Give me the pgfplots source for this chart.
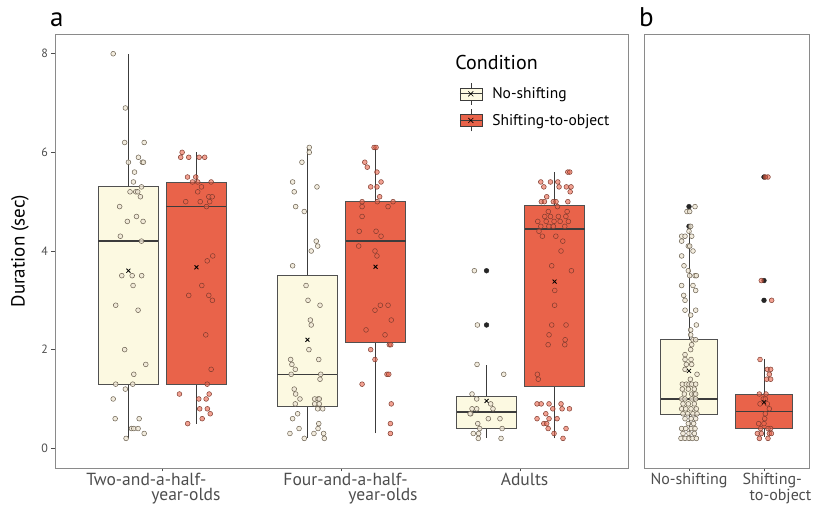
\documentclass[border=0pt]{standalone}
\usepackage{fontspec}
\setmainfont{PT Sans}
\usepackage{pgfplots}
\pgfplotsset{compat=1.18}
\usepgfplotslibrary{statistics}
\definecolor{boxY}{HTML}{FCF9E1}
\definecolor{boxR}{HTML}{E9634A}
\definecolor{edge}{HTML}{3C3C3C}
\definecolor{ptY}{HTML}{EFE7D6}
\definecolor{ptYe}{HTML}{6A6050}
\definecolor{ptRe}{HTML}{7E3B2E}
\definecolor{frame}{HTML}{8A8A8A}
\definecolor{ticklab}{HTML}{4D4D4D}
\pgfplotsset{
  common/.style={
    scale only axis, height=434pt, ymin=-0.4, ymax=8.4,
    axis line style={frame, line width=0.7pt},
    tick align=outside, tick pos=left, major tick length=3.5pt,
    tick style={ticklab, line width=0.6pt},
    /pgf/number format/assume math mode=true,
    yticklabel style={font=\fontsize{12}{14}\selectfont, text=ticklab},
    xticklabel style={text=ticklab, align=left, yshift=1.5pt},
  },
  bx/.style n args={7}{boxplot prepared={draw direction=y, draw position=#1, box extend=#2, lower whisker=#3, lower quartile=#4, median=#5, upper quartile=#6, upper whisker=#7, whisker extend=0, every median/.style={line width=1.5pt, draw=edge}, every whisker/.style={line width=0.7pt, draw=edge}}, draw=edge!90, line width=0.8pt},
  ptsY/.style={only marks, mark=*, mark size=2.4pt, mark options={fill=ptY, fill opacity=0.8, draw=ptYe, line width=0.5pt}},
  ptsR/.style={only marks, mark=*, mark size=2.4pt, mark options={fill=boxR, fill opacity=0.6, draw=ptRe, line width=0.5pt}},
  outl/.style={only marks, mark=*, mark size=2.4pt, mark options={fill=black!85, draw=black!85}},
  meanm/.style={only marks, mark=x, mark size=2.8pt, mark options={draw=black, line width=0.8pt}},
  legY/.style={legend image code/.code={
      \draw[edge, line width=0.6pt] (11pt,-11pt) -- (11pt,11pt);
      \draw[edge, fill=boxY, line width=0.6pt] (0pt,-6pt) rectangle (22pt,6pt);
      \draw[edge, line width=1pt] (0pt,0pt) -- (22pt,0pt);
      \draw[black, line width=0.6pt] (8.5pt,-2.5pt) -- (13.5pt,2.5pt) (8.5pt,2.5pt) -- (13.5pt,-2.5pt);}},
  legR/.style={legend image code/.code={
      \draw[edge, line width=0.6pt] (11pt,-11pt) -- (11pt,11pt);
      \draw[edge, fill=boxR, line width=0.6pt] (0pt,-6pt) rectangle (22pt,6pt);
      \draw[edge, line width=1pt] (0pt,0pt) -- (22pt,0pt);
      \draw[black, line width=0.6pt] (8.5pt,-2.5pt) -- (13.5pt,2.5pt) (8.5pt,2.5pt) -- (13.5pt,-2.5pt);}},
}
\begin{document}
\begin{tikzpicture}
\path[use as bounding box] (0,0) rectangle (814pt,506pt);
\begin{axis}[common, at={(55pt,38pt)}, anchor=south west, width=573pt,
  xmin=0.4, xmax=3.6, xtick={1,2,3},
  xticklabel style={font=\fontsize{17.5}{15}\selectfont},
  xticklabels={{Two-and-a-half-\\\hspace*{65pt}year-olds\hspace*{18pt}},{\hspace*{18pt}Four-and-a-half-\\\hspace*{83pt}year-olds},{\hspace*{8pt}Adults}},
  ytick={0,2,4,6,8},
  ylabel={Duration (sec)},
  ylabel style={font=\fontsize{19}{22}\selectfont, at={(axis description cs:-0.061,0.5)}, anchor=center, rotate=0},
  legend style={draw=none, fill=none, at={(axis cs:2.64,7.46)}, anchor=north west, font=\fontsize{15.5}{18}\selectfont, row sep=4pt, cells={anchor=west}, /tikz/every odd column/.append style={column sep=8pt}},
  legend cell align=left,
]
\addlegendimage{legY}\addlegendentry{No-shifting}
\addlegendimage{legR}\addlegendentry{Shifting-to-object}
\addplot[bx={0.81}{0.335}{0.2}{1.3}{4.2}{5.3}{8.0}, fill=boxY] coordinates {};
\addplot[bx={1.19}{0.335}{0.5}{1.3}{4.9}{5.4}{6.0}, fill=boxR] coordinates {};
\addplot[bx={1.81}{0.335}{0.2}{0.84}{1.5}{3.5}{6.1}, fill=boxY] coordinates {};
\addplot[bx={2.19}{0.335}{0.3}{2.15}{4.2}{5.0}{6.1}, fill=boxR] coordinates {};
\addplot[bx={2.81}{0.335}{0.2}{0.41}{0.74}{1.06}{1.69}, fill=boxY] coordinates {};
\addplot[bx={3.19}{0.335}{0.2}{1.26}{4.45}{4.93}{5.6}, fill=boxR] coordinates {};
\addplot[outl] coordinates {(2.81,3.6)(2.81,2.5)};
\addplot[ptsY] coordinates {
(0.725,8.0)(0.793,6.9)(0.789,6.2)(0.898,6.2)(0.866,5.9)(0.810,5.8)(0.888,5.8)(0.894,5.8)(0.844,5.6)(0.838,5.4)(0.883,5.3)(0.819,5.2)(0.851,5.2)(0.862,5.2)(0.877,5.1)(0.761,4.9)(0.855,4.7)(0.804,4.6)(0.892,4.6)(0.765,4.3)(0.883,4.2)(0.773,3.5)(0.831,3.5)(0.884,3.5)(0.836,3.3)(0.739,2.9)(0.864,2.8)(0.789,2.0)(0.907,1.7)(0.840,1.5)(0.739,1.3)(0.834,1.3)(0.793,1.2)(0.725,1.0)(0.736,0.6)(0.870,0.6)(0.827,0.4)(0.840,0.4)(0.864,0.4)(0.898,0.3)(0.797,0.2)
(1.820,6.1)(1.820,6.0)(1.779,5.8)(1.727,5.4)(1.863,5.3)(1.736,5.2)(1.744,4.9)(1.792,4.8)(1.859,4.2)(1.867,4.1)(1.831,4.0)(1.727,3.7)(1.802,3.3)(1.813,3.0)(1.880,2.9)(1.826,2.6)(1.831,2.5)(1.818,2.0)(1.716,1.8)(1.723,1.7)(1.742,1.6)(1.873,1.8)(1.719,1.5)(1.884,1.5)(1.880,1.4)(1.736,1.2)(1.744,1.1)(1.768,1.0)(1.850,1.0)(1.869,1.0)(1.876,1.0)(1.742,0.9)(1.850,0.9)(1.876,0.9)(1.867,0.8)(1.895,0.8)(1.755,0.7)(1.727,0.6)(1.873,0.5)(1.763,0.4)(1.869,0.4)(1.712,0.3)(1.846,0.3)(1.900,0.3)(1.792,0.2)(1.904,0.2)
(2.742,3.6)(2.759,2.5)(2.757,1.7)(2.906,1.5)(2.729,1.1)(2.755,1.0)(2.833,0.9)(2.729,0.8)(2.755,0.8)(2.846,0.8)(2.722,0.7)(2.718,0.7)(2.820,0.6)(2.885,0.6)(2.761,0.5)(2.772,0.4)(2.897,0.4)(2.736,0.3)(2.766,0.3)(2.764,0.2)(2.891,0.2)
};
\addplot[ptsR] coordinates {
(1.110,6.0)(1.102,5.9)(1.147,5.9)(1.205,5.9)(1.236,5.9)(1.140,5.5)(1.186,5.5)(1.168,5.4)(1.197,5.4)(1.272,5.4)(1.218,5.3)(1.197,5.2)(1.259,5.1)(1.278,5.1)(1.130,5.0)(1.211,5.0)(1.264,5.0)(1.246,4.9)(1.281,3.9)(1.250,3.8)(1.220,3.3)(1.147,3.1)(1.259,3.1)(1.279,3.0)(1.242,2.3)(1.272,1.6)(1.250,1.3)(1.095,1.1)(1.261,1.1)(1.203,1.0)(1.244,1.0)(1.208,0.8)(1.251,0.8)(1.267,0.7)(1.222,0.6)(1.141,0.5)
(2.182,6.1)(2.193,6.1)(2.130,5.8)(2.144,5.7)(2.198,5.6)(2.221,5.4)(2.163,5.3)(2.198,5.3)(2.213,5.1)(2.115,5.0)(2.200,5.0)(2.288,5.0)(2.115,4.9)(2.260,4.9)(2.115,4.7)(2.099,4.4)(2.193,4.4)(2.221,4.3)(2.096,4.1)(2.187,4.0)(2.198,3.9)(2.217,2.9)(2.260,2.9)(2.187,2.8)(2.278,2.6)(2.137,2.4)(2.243,2.3)(2.267,2.1)(2.275,2.1)(2.163,2.0)(2.187,1.8)(2.254,1.5)(2.264,1.5)(2.115,1.3)(2.278,0.9)(2.273,0.5)(2.273,0.3)
(3.264,5.6)(3.275,5.6)(3.113,5.4)(3.167,5.4)(3.208,5.4)(3.130,5.3)(3.215,5.3)(3.256,5.3)(3.282,5.3)(3.277,5.2)(3.146,5.1)(3.116,5.0)(3.133,5.0)(3.183,5.0)(3.198,5.0)(3.264,5.0)(3.206,4.9)(3.155,4.8)(3.260,4.8)(3.135,4.7)(3.167,4.7)(3.211,4.7)(3.253,4.7)(3.096,4.6)(3.143,4.6)(3.187,4.6)(3.221,4.6)(3.267,4.6)(3.113,4.5)(3.158,4.5)(3.183,4.5)(3.247,4.5)(3.103,4.4)(3.122,4.3)(3.197,4.3)(3.236,4.2)(3.226,4.0)(3.174,3.7)(3.284,3.6)(3.191,3.2)(3.190,2.9)(3.174,2.5)(3.254,2.5)(3.159,2.3)(3.249,2.2)(3.154,2.1)(3.247,2.1)(3.094,1.5)(3.099,1.4)(3.092,0.9)(3.115,0.9)(3.159,0.9)(3.226,0.9)(3.180,0.8)(3.232,0.8)(3.273,0.8)(3.141,0.7)(3.092,0.6)(3.159,0.6)(3.204,0.6)(3.130,0.5)(3.146,0.5)(3.154,0.4)(3.254,0.4)(3.187,0.3)(3.237,0.2)
};
\addplot[meanm] coordinates {(0.81,3.6)(1.19,3.67)(1.81,2.2)(2.19,3.68)(2.81,0.96)(3.19,3.38)};
\node[anchor=west, font=\fontsize{20}{24}\selectfont, inner sep=0pt] at (axis cs:2.635,7.83) {Condition};
\end{axis}
\begin{axis}[common, at={(644pt,38pt)}, anchor=south west, width=165pt,
  xmin=0.4, xmax=2.6, xtick={1,2}, ytick=\empty,
  xticklabel style={font=\fontsize{16}{14.5}\selectfont},
  xticklabels={{\raisebox{-7pt}{No-shifting}},{\hspace*{26pt}Shifting-\\\hspace*{33pt}to-object}},
]
\addplot[bx={1}{0.76}{0.2}{0.69}{1.0}{2.2}{4.4}, fill=boxY] coordinates {};
\addplot[bx={2}{0.76}{0.23}{0.4}{0.75}{1.1}{1.8}, fill=boxR] coordinates {};
\addplot[outl] coordinates {(1,4.9)(1,4.5)(2,5.5)(2,3.4)(2,3.0)};
\addplot[ptsY] coordinates {
(1.080,4.9)(0.973,4.8)(1.009,4.8)(1.022,4.5)(1.000,4.4)(0.902,4.3)(0.947,4.3)(1.036,4.3)(0.902,4.2)(0.991,4.1)(1.009,4.1)(1.053,4.0)(0.902,3.9)(0.933,3.7)(0.991,3.6)(1.009,3.5)(1.080,3.5)(1.098,3.5)(0.902,3.3)(1.053,3.3)(1.089,3.2)(0.929,3.1)(0.947,3.0)(0.947,2.8)(1.089,2.8)(1.022,2.7)(1.098,2.5)(1.022,2.4)(1.022,2.3)(1.053,2.2)(1.089,2.2)(1.036,2.1)(1.022,2.0)(0.947,1.9)(1.027,1.8)(0.947,1.8)(0.964,1.7)(1.036,1.7)(0.947,1.6)(1.107,1.5)(1.018,1.4)(0.911,1.3)(0.964,1.3)(1.000,1.3)(1.036,1.3)(1.089,1.3)(0.911,1.2)(0.991,1.2)(1.071,1.2)(0.938,1.1)(1.036,1.1)(1.071,1.1)(1.089,1.1)(0.902,1.0)(0.947,1.0)(1.036,1.0)(1.089,1.0)(0.920,0.9)(0.991,0.9)(1.071,0.9)(0.902,0.8)(0.956,0.8)(1.027,0.8)(1.098,0.8)(0.920,0.7)(0.982,0.7)(1.053,0.7)(1.107,0.7)(0.947,0.6)(1.027,0.6)(1.089,0.6)(0.991,0.5)(1.062,0.5)(0.902,0.4)(0.956,0.4)(1.027,0.4)(1.080,0.4)(0.920,0.3)(1.000,0.3)(1.071,0.3)(0.893,0.2)(0.947,0.2)(1.000,0.2)(1.044,0.2)(1.098,0.2)
};
\addplot[ptsR] coordinates {
(2.053,5.5)(2.018,5.5)(1.964,3.4)(2.102,3.0)(1.947,1.8)(2.044,1.6)(2.089,1.6)(2.071,1.5)(2.036,1.4)(2.089,1.4)(1.938,1.1)(2.027,1.1)(1.991,1.0)(2.018,1.0)(1.947,0.9)(2.044,0.9)(2.071,0.8)(2.018,0.7)(2.009,0.6)(2.000,0.5)(1.929,0.5)(1.956,0.4)(2.089,0.4)(2.053,0.4)(1.911,0.3)(1.964,0.3)(2.071,0.3)(2.098,0.3)(1.938,0.2)(2.053,0.2)
};
\addplot[meanm] coordinates {(1,1.57)(2,0.93)};
\end{axis}
\node[anchor=base west, font=\fontsize{27}{30}\selectfont, inner sep=0pt] at (50pt,479pt) {a};
\node[anchor=base west, font=\fontsize{27}{30}\selectfont, inner sep=0pt] at (639pt,479pt) {b};
\end{tikzpicture}
\end{document}
